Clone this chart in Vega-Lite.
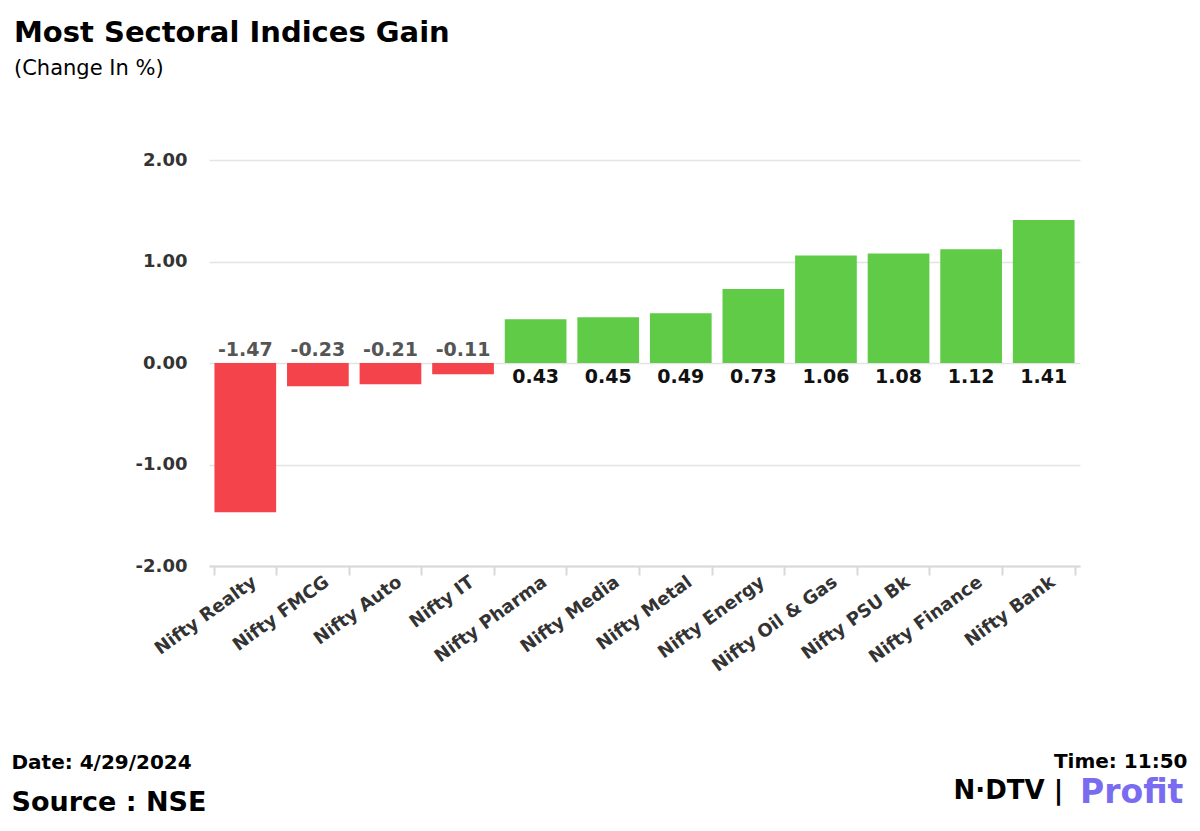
{
  "$schema": "https://vega.github.io/schema/vega-lite/v6.json",
  "autosize": {"type": "none"},
  "width": 871,
  "height": 406,
  "padding": {"left": 209, "top": 160, "right": 120, "bottom": 265},
  "background": "#ffffff",
  "title": {
    "text": "Most Sectoral Indices Gain",
    "subtitle": "(Change In %)",
    "anchor": "start",
    "frame": "group",
    "dx": -195,
    "offset": 72,
    "font": "DejaVu Sans",
    "fontSize": 29,
    "fontWeight": "bold",
    "color": "#000000",
    "subtitleFont": "DejaVu Sans",
    "subtitleFontSize": 21,
    "subtitleColor": "#000000",
    "subtitlePadding": 10
  },
  "data": {
    "values": [
      {"index": "Nifty Realty", "change": -1.47, "direction": "Decline"},
      {"index": "Nifty FMCG", "change": -0.23, "direction": "Decline"},
      {"index": "Nifty Auto", "change": -0.21, "direction": "Decline"},
      {"index": "Nifty IT", "change": -0.11, "direction": "Decline"},
      {"index": "Nifty Pharma", "change": 0.43, "direction": "Gain"},
      {"index": "Nifty Media", "change": 0.45, "direction": "Gain"},
      {"index": "Nifty Metal", "change": 0.49, "direction": "Gain"},
      {"index": "Nifty Energy", "change": 0.73, "direction": "Gain"},
      {"index": "Nifty Oil & Gas", "change": 1.06, "direction": "Gain"},
      {"index": "Nifty PSU Bk", "change": 1.08, "direction": "Gain"},
      {"index": "Nifty Finance", "change": 1.12, "direction": "Gain"},
      {"index": "Nifty Bank", "change": 1.41, "direction": "Gain"}
    ]
  },
  "resolve": {"axis": {"x": "independent", "y": "independent"}},
  "layer": [
    {
      "mark": {"type": "bar"},
      "encoding": {
        "x": {
          "field": "index",
          "type": "nominal",
          "sort": null,
          "scale": {"paddingInner": 0.15, "paddingOuter": 0.075},
          "axis": {
            "orient": "bottom",
            "labelAngle": -36,
            "labelAlign": "right",
            "labelBaseline": "middle",
            "labelFont": "DejaVu Sans",
            "labelFontSize": 18,
            "labelFontWeight": "bold",
            "labelColor": "#333333",
            "labelPadding": 5,
            "labelOffset": 9,
            "domainColor": "#d8d8d8",
            "domainWidth": 2,
            "tickColor": "#d8d8d8",
            "tickWidth": 2,
            "tickSize": 9,
            "tickBand": "extent",
            "grid": false,
            "title": "Source : NSE",
            "titleFont": "DejaVu Sans",
            "titleFontSize": 27,
            "titleFontWeight": "bold",
            "titleColor": "#000000",
            "titleAngle": 0,
            "titleAlign": "left",
            "titleBaseline": "alphabetic",
            "titleX": -198,
            "titleY": 244
          }
        },
        "y": {
          "field": "change",
          "type": "quantitative",
          "scale": {"domain": [-2, 2], "nice": false},
          "axis": {
            "orient": "left",
            "values": [-2, -1, 0, 1, 2],
            "format": ".2f",
            "labelFont": "DejaVu Sans",
            "labelFontSize": 18,
            "labelFontWeight": "bold",
            "labelColor": "#333333",
            "labelPadding": 22,
            "ticks": false,
            "domain": false,
            "grid": true,
            "gridColor": "#e4e4e4",
            "gridWidth": 1.5,
            "title": "Date: 4/29/2024",
            "titleFont": "DejaVu Sans",
            "titleFontSize": 20,
            "titleFontWeight": "bold",
            "titleColor": "#000000",
            "titleAngle": 0,
            "titleAlign": "left",
            "titleBaseline": "alphabetic",
            "titleX": -198,
            "titleY": 608
          }
        },
        "color": {
          "field": "direction",
          "type": "nominal",
          "scale": {"domain": ["Decline", "Gain"], "range": ["#F4434B", "#5FCB46"]},
          "legend": {
            "orient": "none",
            "legendX": 871,
            "legendY": 617,
            "padding": 0,
            "title": "Profit",
            "titleFont": "DejaVu Sans",
            "titleFontSize": 33,
            "titleFontWeight": "bold",
            "titleColor": "#7a6cf0",
            "titleBaseline": "top",
            "labelExpr": "''",
            "symbolOpacity": 0,
            "symbolStrokeWidth": 0,
            "symbolSize": 0
          }
        }
      }
    },
    {
      "transform": [{"filter": "datum.change < 0"}],
      "mark": {
        "type": "text",
        "baseline": "bottom",
        "dy": -3,
        "font": "DejaVu Sans",
        "fontSize": 19,
        "fontWeight": "bold",
        "color": "#555555"
      },
      "encoding": {
        "x": {
          "field": "index",
          "type": "nominal",
          "sort": null,
          "axis": {
            "orient": "top",
            "labels": false,
            "ticks": false,
            "domain": false,
            "grid": false,
            "title": "N·DTV  |",
            "titleFont": "DejaVu Sans",
            "titleFontSize": 26,
            "titleFontWeight": "bold",
            "titleColor": "#000000",
            "titleAngle": 0,
            "titleAlign": "left",
            "titleBaseline": "alphabetic",
            "titleX": 744,
            "titleY": 638
          }
        },
        "y": {
          "datum": 0,
          "type": "quantitative",
          "axis": {
            "orient": "right",
            "labels": false,
            "ticks": false,
            "domain": false,
            "grid": false,
            "title": "Time: 11:50",
            "titleFont": "DejaVu Sans",
            "titleFontSize": 20,
            "titleFontWeight": "bold",
            "titleColor": "#000000",
            "titleAngle": 0,
            "titleAlign": "right",
            "titleBaseline": "alphabetic",
            "titleX": 107,
            "titleY": 607
          }
        },
        "text": {"field": "change", "type": "quantitative", "format": ".2f"}
      }
    },
    {
      "transform": [{"filter": "datum.change >= 0"}],
      "mark": {
        "type": "text",
        "baseline": "top",
        "dy": 5,
        "font": "DejaVu Sans",
        "fontSize": 19,
        "fontWeight": "bold",
        "color": "#111111"
      },
      "encoding": {
        "x": {"field": "index", "type": "nominal", "sort": null, "axis": null},
        "y": {"datum": 0, "type": "quantitative", "axis": null},
        "text": {"field": "change", "type": "quantitative", "format": ".2f"}
      }
    }
  ],
  "config": {
    "view": {"stroke": null},
    "locale": {
      "number": {
        "decimal": ".",
        "thousands": ",",
        "grouping": [3],
        "currency": ["$", ""],
        "minus": "-"
      }
    }
  }
}
